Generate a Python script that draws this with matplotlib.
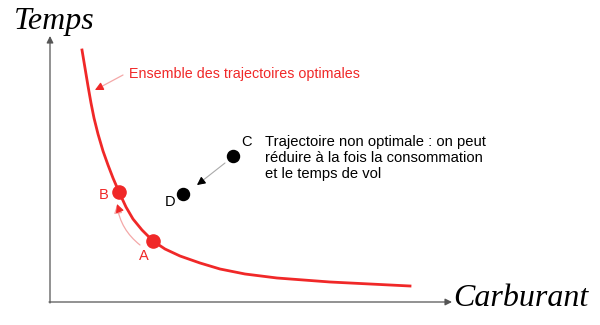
import matplotlib
matplotlib.use("Agg")
import matplotlib.pyplot as plt
from matplotlib.patches import FancyArrowPatch

plt.rcParams.update({
    "font.family": "sans-serif",
    "font.sans-serif": ["Liberation Sans", "DejaVu Sans"],
})

RED = "#F02828"
PINK = "#F4A8A8"

# Pareto front (fuel, time), in picture units
curve_x = [82, 85, 88, 91, 94, 98, 103, 108, 113, 119, 126, 133, 142, 153, 165, 180, 200, 220, 245, 277, 330, 370, 410]
curve_y = [50, 68, 86, 103, 118, 134, 151, 165, 178, 192, 207, 219, 230, 241, 249, 256, 263, 269, 274, 278, 282, 284, 286]

optimal_names = ["B", "A"]
optimal_x = [119, 153]
optimal_y = [192, 241]

other_names = ["C", "D"]
other_x = [233, 183]
other_y = [156, 194]

fig = plt.figure(figsize=(6, 3.25), dpi=100)
ax = fig.add_axes([0, 0, 1, 1])
ax.set_xlim(0, 600)
ax.set_ylim(325, 0)
ax.axis("off")

# axes arrows
ax.annotate("", xy=(50, 36), xytext=(50, 303),
            arrowprops=dict(arrowstyle="-|>", color="#555555", lw=0.9,
                            mutation_scale=10, shrinkA=0, shrinkB=0))
ax.annotate("", xy=(452, 302), xytext=(49, 302),
            arrowprops=dict(arrowstyle="-|>", color="#555555", lw=0.9,
                            mutation_scale=10, shrinkA=0, shrinkB=0))
ax.text(14, 21, "Temps", family="Liberation Serif", style="italic",
        fontsize=23, ha="left", va="center")
ax.text(453, 299, "Carburant", family="Liberation Serif", style="italic",
        fontsize=23, ha="left", va="center")

ax.plot(curve_x, curve_y, color=RED, lw=2, zorder=2, solid_joinstyle="round")

ax.scatter(optimal_x, optimal_y, s=90, color=RED, zorder=3)
ax.scatter(other_x, other_y, s=75, color="black", zorder=3)

for name, x, y in zip(optimal_names, optimal_x, optimal_y):
    dx, dy = (-15, 3) if name == "B" else (-9, 15)
    ax.text(x + dx, y + dy, name, color=RED, fontsize=10.5, ha="center", va="center")
for name, x, y in zip(other_names, other_x, other_y):
    dx, dy = (14, -14) if name == "C" else (-13, 8)
    ax.text(x + dx, y + dy, name, color="black", fontsize=10.5, ha="center", va="center")

# C -> D
ax.annotate("", xy=(197, 185), xytext=(225, 163),
            arrowprops=dict(arrowstyle="-|>", color="#AAAAAA", lw=0.8,
                            mutation_scale=12, shrinkA=0, shrinkB=0))
ax.annotate("", xy=(197, 185), xytext=(201, 182),
            arrowprops=dict(arrowstyle="-|>", color="black", lw=0.8,
                            mutation_scale=12, shrinkA=0, shrinkB=0))

# A -> B (curved)
arc = FancyArrowPatch((140, 245), (117, 205), connectionstyle="arc3,rad=-0.2",
                      arrowstyle="-|>", color=PINK, lw=0.9, mutation_scale=12,
                      shrinkA=0, shrinkB=0)
ax.add_patch(arc)
ax.annotate("", xy=(117, 204), xytext=(118.5, 208),
            arrowprops=dict(arrowstyle="-|>", color=RED, lw=0.8,
                            mutation_scale=12, shrinkA=0, shrinkB=0))

# label of the front
ax.annotate("", xy=(95, 90), xytext=(123, 75),
            arrowprops=dict(arrowstyle="-|>", color=PINK, lw=0.9,
                            mutation_scale=12, shrinkA=0, shrinkB=0))
ax.annotate("", xy=(95, 90), xytext=(99, 88),
            arrowprops=dict(arrowstyle="-|>", color=RED, lw=0.8,
                            mutation_scale=12, shrinkA=0, shrinkB=0))
ax.text(129, 74, "Ensemble des trajectoires optimales", color=RED,
        fontsize=10.3, ha="left", va="center")

ax.text(265, 158, "Trajectoire non optimale : on peut\n"
                  "réduire à la fois la consommation\n"
                  "et le temps de vol",
        color="black", fontsize=10.6, ha="left", va="center", linespacing=1.15)

fig.savefig("out.png", dpi=100)
